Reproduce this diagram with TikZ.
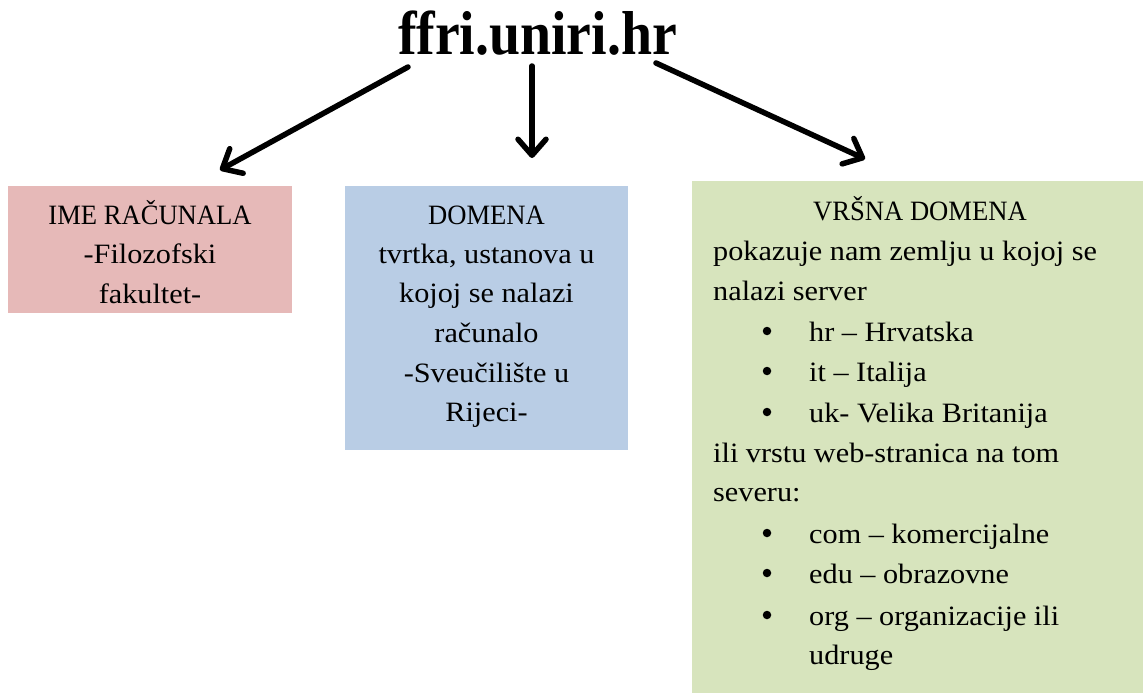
\documentclass[tikz,border=0pt]{standalone}
\usepackage{fontspec}
\setmainfont[FakeStretch=1.08]{Liberation Serif}
\newfontfamily\titlefont[FakeStretch=0.9]{Liberation Serif}
\newfontfamily\capfont[FakeStretch=0.95]{Liberation Serif}
\usetikzlibrary{arrows.meta}
\definecolor{boxred}{HTML}{E6B9B8}
\definecolor{boxblue}{HTML}{B9CDE5}
\definecolor{boxgreen}{HTML}{D7E4BD}
\begin{document}
\begin{tikzpicture}[x=1pt,y=-1pt,
  boxstyle/.style={anchor=north west,inner sep=0pt,draw=none},
  linetxt/.style={inner sep=0pt,font=\fontsize{28}{34}\selectfont},
  captxt/.style={inner sep=0pt,font=\capfont\fontsize{28}{34}\selectfont},
  dot/.style={circle,fill=black,inner sep=0pt,minimum size=8.5pt},
  arr/.style={line width=5.5pt,line cap=round,
    -{Straight Barb[length=16pt,width=28pt,line width=5.5pt,round]}}]
\useasboundingbox (0,0) rectangle (1143,693);
% title
\node[inner sep=0pt,anchor=base,font=\titlefont\bfseries\fontsize{62}{62}\selectfont] (t) at (537.5,55) {ffri.uniri.hr};
% boxes
\node[boxstyle,fill=boxred,minimum width=284pt,minimum height=127pt] (b1) at (8,186) {};
\node[boxstyle,fill=boxblue,minimum width=283pt,minimum height=264pt] (b2) at (345,186) {};
\node[boxstyle,fill=boxgreen,minimum width=451pt,minimum height=512pt] (b3) at (692,181) {};
% arrows
\coordinate (s1) at (408,67);
\coordinate (e1) at (220,170);
\coordinate (s2) at (532,66);
\coordinate (e2) at (532,158);
\coordinate (s3) at (656,63);
\coordinate (e3) at (865,159);
\draw[arr] (s1) -- (e1);
\draw[arr] (s2) -- (e2);
\draw[arr] (s3) -- (e3);
% red box text
\node[captxt,anchor=base] (r1) at (150,224) {IME RAČUNALA};
\foreach \txt/\yy [count=\i from 2] in {{-Filozofski}/263,{fakultet-}/303}
  \node[linetxt,anchor=base] (r\i) at (150,\yy) {\txt};
% blue box text
\node[captxt,anchor=base] (u1) at (486.5,224) {DOMENA};
\foreach \txt/\yy [count=\i from 2] in {{tvrtka, ustanova u}/263,{kojoj se nalazi}/302,{računalo}/342,{-Sveučilište u}/382,{Rijeci-}/421}
  \node[linetxt,anchor=base] (u\i) at (486.5,\yy) {\txt};
% green box text
\node[captxt,anchor=base] (g0) at (920,220) {VRŠNA DOMENA};
\foreach \txt/\yy [count=\i] in {{pokazuje nam zemlju u kojoj se}/260,{nalazi server}/300,{ili vrstu web-stranica na tom}/462,{severu:}/501}
  \node[linetxt,anchor=base west] (g\i) at (713,\yy) {\txt};
\foreach \txt/\yy [count=\i] in {{hr – Hrvatska}/341,{it – Italija}/381,{uk- Velika Britanija}/422,{com – komercijalne}/543,{edu – obrazovne}/583,{org – organizacije ili}/625}
  {\node[dot] (bu\i) at (767,\yy-10) {};
   \node[linetxt,anchor=base west] (bt\i) at (809,\yy) {\txt};}
\node[linetxt,anchor=base west] (bt7) at (809,664) {udruge};
\end{tikzpicture}
\end{document}
